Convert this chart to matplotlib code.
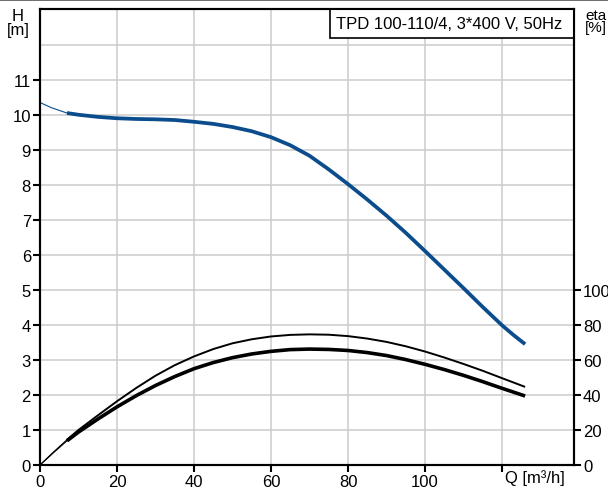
import matplotlib
matplotlib.use("Agg")
import matplotlib.pyplot as plt
import numpy as np

plt.rcParams['font.family'] = ['Liberation Sans', 'DejaVu Sans']

# Q-H curve (m)
q_h_thin = [0, 3, 7]
h_thin = [10.35, 10.2, 10.05]
q_h = [7, 10, 15, 20, 25, 30, 35, 40, 45, 50, 55, 60, 65, 70, 75, 80, 85, 90,
       95, 100, 105, 110, 115, 120, 123, 126]
h_vals = [10.05, 10.0, 9.94, 9.9, 9.88, 9.87, 9.85, 9.80, 9.74, 9.65, 9.53, 9.36,
          9.13, 8.83, 8.44, 8.02, 7.58, 7.12, 6.63, 6.11, 5.58, 5.05, 4.51, 3.99,
          3.71, 3.45]

# Efficiency curves (eta, %)
q_eta_thin = [0, 3.5, 7]
eta1_thin = [0, 7.4, 14.4]
eta2_thin = [0, 7.0, 13.8]
q_eta = [7, 10, 15, 20, 25, 30, 35, 40, 45, 50, 55, 60, 65, 70, 75, 80, 85, 90,
         95, 100, 105, 110, 115, 120, 126]
eta1 = [14.4, 20.0, 28.3, 36.4, 44.0, 51.0, 57.0, 62.0, 66.2, 69.5, 71.8, 73.4,
        74.3, 74.6, 74.4, 73.6, 72.2, 70.3, 67.8, 64.8, 61.4, 57.7, 53.8, 49.6, 44.6]
eta2 = [13.8, 18.8, 26.2, 33.2, 39.6, 45.4, 50.5, 55.0, 58.5, 61.3, 63.4, 64.9,
        65.9, 66.2, 66.0, 65.4, 64.2, 62.5, 60.2, 57.5, 54.5, 51.2, 47.6, 43.8, 39.4]

x_ticks = [0, 20, 40, 60, 80, 100, 120]
x_labels = ['0', '20', '40', '60', '80', '100', '']
h_ticks = list(range(0, 12))
eta_ticks = [0, 20, 40, 60, 80, 100]

title_text = "TPD 100-110/4, 3*400 V, 50Hz"

fig = plt.figure(figsize=(6.08, 4.89), dpi=100)
W, H = 608, 489
ax = fig.add_axes([40 / W, (H - 466) / H, 534 / W, 456 / H])

xmax = 138.7
hmax = 13.02
ax.set_xlim(0, xmax)
ax.set_ylim(0, hmax)

grid_c = '#cccccc'
for yv in range(1, 13):
    ax.axhline(yv, color=grid_c, lw=1.1, zorder=0)
for xv in x_ticks[1:]:
    ax.axvline(xv, color=grid_c, lw=1.1, zorder=0)

blue = '#0b4c8c'
ax.plot(q_h_thin, h_thin, color=blue, lw=0.8, zorder=3)
ax.plot(q_h, h_vals, color=blue, lw=2.7, zorder=3, solid_capstyle='butt',
        solid_joinstyle='round')

ax2 = ax.twinx()
ax2.set_ylim(0, hmax * 20)
ax2.plot(q_eta_thin, eta1_thin, color='black', lw=0.8)
ax2.plot(q_eta_thin, eta2_thin, color='black', lw=0.8)
ax2.plot(q_eta, eta1, color='black', lw=1.4, solid_capstyle='butt', solid_joinstyle='round')
ax2.plot(q_eta, eta2, color='black', lw=2.6, solid_capstyle='butt', solid_joinstyle='round')

ax.set_xticks(x_ticks)
ax.set_xticklabels(x_labels)
ax.set_yticks(h_ticks)
ax.set_yticklabels([str(t) for t in h_ticks])
ax2.set_yticks(eta_ticks)
ax2.set_yticklabels([str(t) for t in eta_ticks])

for a in (ax, ax2):
    for s in a.spines.values():
        s.set_linewidth(1.5)
        s.set_color('black')
    a.tick_params(direction='out', length=5, width=1.5, labelsize=12, colors='black', pad=1.5)

ax.text(120.9, -0.12, "Q [m³/h]", ha='left', va='top', fontsize=12, transform=ax.transData)

fig.text(18 / W, 1 - 9 / H, "H\n[m]", ha='center', va='top', fontsize=12, linespacing=0.95)
fig.text(585 / W, 1 - 9 / H, "eta\n[%]", ha='left', va='top', fontsize=11, linespacing=0.85)

# title box
x0 = (330 - 40) / 534 * xmax
ax.add_patch(plt.Rectangle((x0, (466 - 39) / 35.0), xmax - x0, hmax - (466 - 39) / 35.0,
                           facecolor='white', edgecolor='black', lw=1.2, zorder=5, clip_on=False))
ax.text(x0 + 1.5, hmax - 0.4, title_text, ha='left', va='center', fontsize=12, zorder=6)

fig.add_artist(plt.Line2D([0, 1], [1 - 0.8 / H, 1 - 0.8 / H], color='#555555', lw=1.2,
                          transform=fig.transFigure))

fig.savefig("out.png", dpi=100)
